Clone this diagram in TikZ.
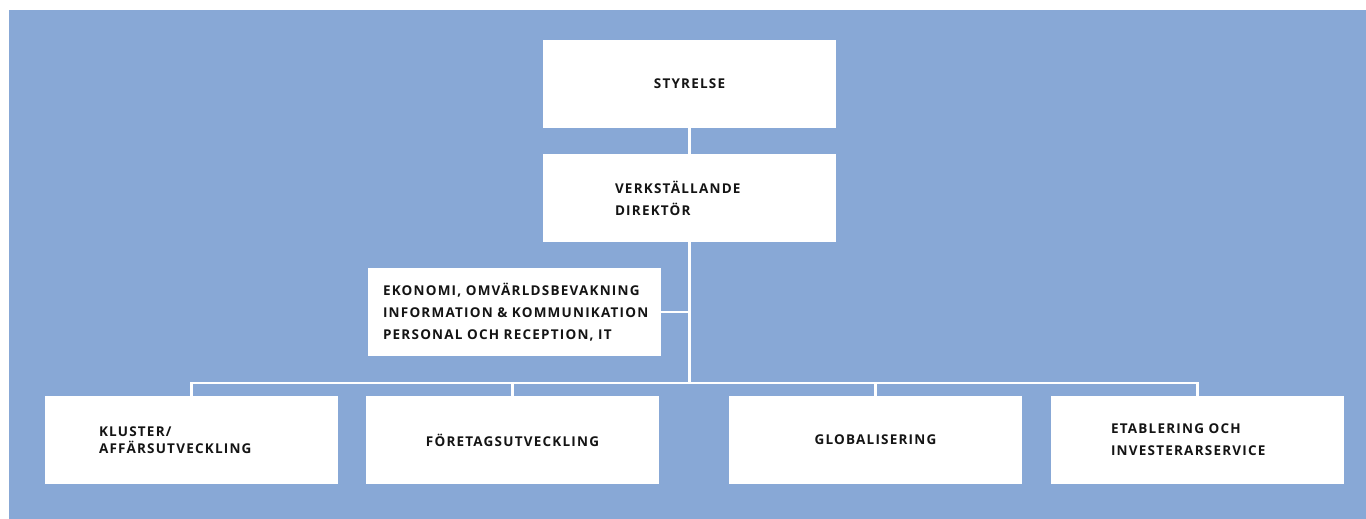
\documentclass[tikz,border=0pt]{standalone}
\usepackage{fontspec}
\newfontfamily\orgfont{Open Sans}[LetterSpace=9, WordSpace=1.6]
\usetikzlibrary{positioning}
\definecolor{bgblue}{RGB}{136,168,214}
\definecolor{orgtext}{RGB}{20,20,20}
\tikzstyle{orgbox} = [fill=white, rectangle, minimum width=293pt, minimum height=88pt, inner ysep=0pt, text=orgtext, font=\orgfont\bfseries\fontsize{13.5}{22}\selectfont]
\tikzstyle{orgline} = [draw=white, line width=2.5pt]

\begin{document}
\begin{tikzpicture}[x=1pt,y=-1pt]
	\useasboundingbox (0,0) rectangle (1366,519);
	\fill[bgblue] (9,10) rectangle (1366,519);
	% ledning
	\node [orgbox, align=center] (styrelse) at (689.5,84) {STYRELSE};
	\node [orgbox, align=left, text width=149pt, inner xsep=72pt] (vd) at (689.5,198) {VERKSTÄLLANDE\\DIREKTÖR};
	\node [orgbox, align=left, text width=263pt, inner xsep=15pt] (stab) at (514.5,312) {EKONOMI, OMVÄRLDSBEVAKNING\\INFORMATION \& KOMMUNIKATION\\PERSONAL OCH RECEPTION, IT};
	% avdelningar
	\node [orgbox, align=left, text width=185pt, inner xsep=54pt, font=\orgfont\bfseries\fontsize{13.5}{17}\selectfont] (kluster) at (191.5,440) {KLUSTER/\\AFFÄRSUTVECKLING};
	\node [orgbox, align=center] (foretag) at (512.5,440) {FÖRETAGSUTVECKLING};
	\node [orgbox, align=center] (global) at (875.5,440) {GLOBALISERING};
	\node [orgbox, align=left, text width=173pt, inner xsep=60pt] (etabl) at (1197.5,440) {ETABLERING OCH\\INVESTERARSERVICE};
	\coordinate (buss) at (689.5,383);
	\draw [orgline] (styrelse.south) -- (vd.north);
	\draw [orgline] (vd.south) -- (buss);
	\draw [orgline] (stab.east) -- (stab.east -| vd.south);
	\foreach \avd in {kluster, foretag, global, etabl}
		\draw [orgline] (buss) -| (\avd.north);
\end{tikzpicture}
\end{document}
